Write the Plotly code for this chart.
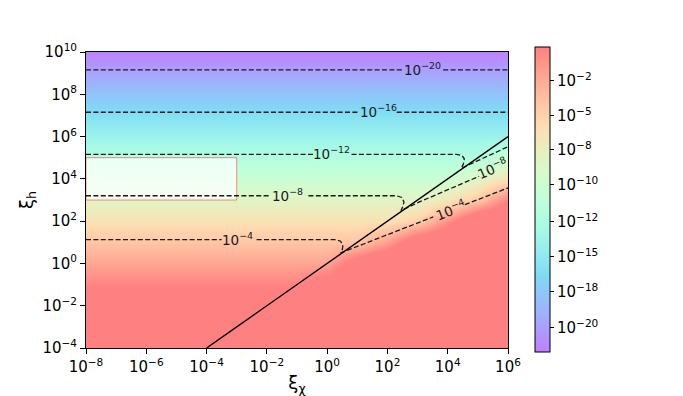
"""Map of the field over (xi_chi, xi_h) with its contour levels."""

import numpy as np
import plotly.graph_objects as go

# exponents of the grid (log10 xi_chi across, log10 xi_h down) and log10 of the field
log_xi_chi = [-8, -4, -2, -1, 0, 1, 2, 3, 4, 5, 6]
log_xi_h = [-4, -3, -2, -1, 0, 1, 2, 3, 4, 5, 6, 7, 8, 9, 10]
log_field = [
    [6.3, 6.3, 6.3, 6.3, 6.3, 6.3, 6.3, 6.3, 6.3, 6.3, 6.3],
    [4.3, 4.3, 4.3, 4.3, 4.3, 4.3, 4.3, 4.3, 4.3, 4.3, 4.3],
    [2.3, 2.3, 2.3, 2.3, 4.0, 4.0, 4.0, 4.0, 4.0, 4.0, 4.0],
    [0.3, 0.3, 0.3, 0.3, 2.0, 4.0, 4.0, 4.0, 4.0, 4.0, 4.0],
    [-1.7, -1.7, -1.7, -1.7, -1.7, 1.84, 4.0, 4.0, 4.0, 4.0, 4.0],
    [-3.7, -3.7, -3.7, -3.7, -3.7, -3.7, -1.4, 2.75, 4.0, 4.0, 4.0],
    [-5.7, -5.7, -5.7, -5.7, -5.7, -5.7, -5.7, -4.37, -0.57, 3.7, 4.0],
    [-7.7, -7.7, -7.7, -7.7, -7.7, -7.7, -7.7, -7.7, -6.1, -3.85, 0.32],
    [-9.7, -9.7, -9.7, -9.7, -9.7, -9.7, -9.7, -9.7, -9.7, -7.7, -5.55],
    [-11.7, -11.7, -11.7, -11.7, -11.7, -11.7, -11.7, -11.7, -11.7, -11.7, -9.52],
    [-13.7, -13.7, -13.7, -13.7, -13.7, -13.7, -13.7, -13.7, -13.7, -13.7, -13.7],
    [-15.7, -15.7, -15.7, -15.7, -15.7, -15.7, -15.7, -15.7, -15.7, -15.7, -15.7],
    [-17.7, -17.7, -17.7, -17.7, -17.7, -17.7, -17.7, -17.7, -17.7, -17.7, -17.7],
    [-19.7, -19.7, -19.7, -19.7, -19.7, -19.7, -19.7, -19.7, -19.7, -19.7, -19.7],
    [-21.7, -21.7, -21.7, -21.7, -21.7, -21.7, -21.7, -21.7, -21.7, -21.7, -21.7],
]
field_min, field_max = -21.75, 0.47

# contour levels 1e-20 ... 1e-4 (exponents, None = label gap)
c20_x = [-8, 2.48, None, 3.85, 6]
c20_y = [9.15, 9.15, None, 9.15, 9.15]
c16_x = [-8, 1.03, None, 2.31, 6]
c16_y = [7.15, 7.15, None, 7.15, 7.15]
c12_x = [-8, -0.44, None, 0.81, 4.3, 4.48, 4.55, 4.52, 4.45, 5.0, 6]
c12_y = [5.16, 5.16, None, 5.16, 5.16, 5.1, 4.95, 4.7, 4.5, 4.86, 5.52]
c8_x = [-8, -1.9, None, -0.62, 2.3, 2.48, 2.55, 2.5, 2.45, 3.08, 5.04]
c8_y = [3.2, 3.2, None, 3.2, 3.2, 3.12, 2.9, 2.65, 2.5, 2.92, 4.12]
c4_x = [-8, -3.5, None, -2.34, 0.25, 0.45, 0.52, 0.5, 0.45, 3.52, None, 4.57, 6]
c4_y = [1.13, 1.13, None, 1.13, 1.13, 1.05, 0.82, 0.62, 0.5, 2.2, None, 2.78, 3.57]

label_text = ["−20", "−16", "−12", "−8", "−4", "−8", "−4"]
label_x = [3.15, 1.69, 0.16, -1.3, -2.96, 5.5, 4.08]
label_y = [9.15, 7.15, 5.16, 3.2, 1.13, 4.45, 2.5]
label_angle = [0, 0, 0, 0, 0, -23, -21]

# xi_h = xi_chi line
diag_x = [-4, 6]
diag_y = [-4, 6]

# shaded box
box_x = [-8, -3]
box_y = [3, 5]

x_ticks = [-8, -6, -4, -2, 0, 2, 4, 6]
y_ticks = [-4, -2, 0, 2, 4, 6, 8, 10]
cbar_ticks = [-2.0, -4.56, -7.03, -9.58, -12.28, -14.83, -17.38, -20.0]
cbar_text = ["−2", "−5", "−8", "−10", "−12", "−15", "−18", "−20"]


def power(e):
    return "10<sup>%s</sup>" % str(e).replace("-", "−")


def rainbow_scale(n=21, alpha=0.5):
    """matplotlib 'rainbow' blended over white."""
    scale = []
    for t in np.linspace(0, 1, n):
        r = min(abs(2 * t - 0.5), 1.0)
        g = np.sin(np.pi * t)
        b = np.cos(np.pi * t / 2)
        rgb = [255 * (alpha * c + 1 - alpha) for c in (r, g, b)]
        scale.append([t, "rgb(%d,%d,%d)" % tuple(round(c) for c in rgb)])
    return scale


fig = go.Figure()
fig.add_trace(
    go.Heatmap(
        x=log_xi_chi,
        y=log_xi_h,
        z=log_field,
        zmin=field_min,
        zmax=field_max,
        zsmooth="best",
        colorscale=rainbow_scale(),
        colorbar=dict(
            x=1.064,
            xanchor="left",
            xpad=0,
            ypad=0,
            y=0.502,
            yanchor="middle",
            len=305,
            lenmode="pixels",
            thickness=15,
            outlinewidth=1,
            outlinecolor="black",
            ticks="outside",
            ticklen=4,
            tickcolor="black",
            tickvals=cbar_ticks,
            ticktext=["10<sup>%s</sup>" % t for t in cbar_text],
            tickfont=dict(size=15, color="black"),
        ),
        hoverinfo="skip",
    )
)

fig.add_trace(
    go.Scatter(
        x=[box_x[0], box_x[1], box_x[1], box_x[0], box_x[0]],
        y=[box_y[0], box_y[0], box_y[1], box_y[1], box_y[0]],
        mode="lines",
        fill="toself",
        fillcolor="rgba(255,255,255,0.75)",
        line=dict(color="rgba(255,0,0,0.45)", width=1),
        showlegend=False,
    )
)

for cx, cy in [(c20_x, c20_y), (c16_x, c16_y), (c12_x, c12_y), (c8_x, c8_y), (c4_x, c4_y)]:
    fig.add_trace(
        go.Scatter(
            x=cx,
            y=cy,
            mode="lines",
            line=dict(color="#1a1a1a", width=1.3, dash="5px,2.4px"),
            showlegend=False,
        )
    )

fig.add_trace(
    go.Scatter(
        x=diag_x,
        y=diag_y,
        mode="lines",
        line=dict(color="black", width=1.4),
        showlegend=False,
    )
)

for t, lx, ly, ang in zip(label_text, label_x, label_y, label_angle):
    fig.add_annotation(
        x=lx,
        y=ly,
        text="10<sup>%s</sup>" % t,
        showarrow=False,
        textangle=ang,
        yshift=1,
        font=dict(size=13.5, color="#1a1a1a"),
    )

fig.update_xaxes(
    range=[-8, 6],
    tickvals=x_ticks,
    ticktext=[power(e) for e in x_ticks],
    ticks="outside",
    ticklen=5,
    tickcolor="black",
    showline=True,
    mirror=True,
    linecolor="black",
    linewidth=1,
    showgrid=False,
    zeroline=False,
    title=dict(text="ξ<sub>χ</sub>", font=dict(size=18), standoff=4),
)
fig.update_yaxes(
    range=[-4, 10],
    tickvals=y_ticks,
    ticktext=[power(e) for e in y_ticks],
    ticks="outside",
    ticklen=5,
    tickcolor="black",
    showline=True,
    mirror=True,
    linecolor="black",
    linewidth=1,
    showgrid=False,
    zeroline=False,
    title=dict(text="ξ<sub>h</sub>", font=dict(size=18), standoff=4),
)
# the page body adds an 8px margin, so the figure is sized to fit inside it
fig.update_layout(
    width=675,
    height=388,
    margin=dict(l=78, r=175, t=44, b=48, autoexpand=False),
    plot_bgcolor="white",
    paper_bgcolor="white",
    font=dict(family="DejaVu Sans", size=15, color="black"),
    showlegend=False,
)

fig.write_html("out.html")
